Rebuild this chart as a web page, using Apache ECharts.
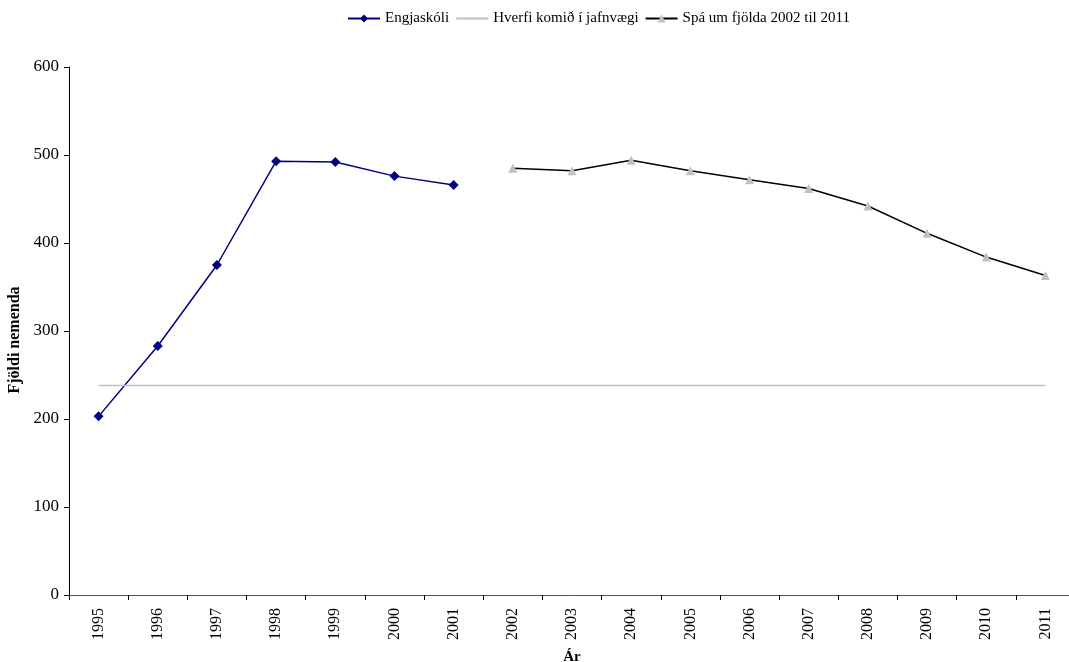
<!DOCTYPE html>
<html>
<head>
<meta charset="utf-8">
<script src="https://cdn.jsdelivr.net/npm/echarts@6/dist/echarts.min.js"></script>
<style>html,body{margin:0;padding:0;background:#fff}#c{width:1069px;height:662px}</style>
</head>
<body>
<div id="c"></div>
<script>
const years = ['1995','1996','1997','1998','1999','2000','2001','2002','2003','2004','2005','2006','2007','2008','2009','2010','2011'];
const engjaskoli = [203, 283, 375, 493, 492, 476, 466, null, null, null, null, null, null, null, null, null, null];
const jafnvaegi = [238, 238, 238, 238, 238, 238, 238, 238, 238, 238, 238, 238, 238, 238, 238, 238, 238];
const spa = [null, null, null, null, null, null, null, 485, 482, 494, 482, 472, 462, 442, 411, 384, 363];
const yTicks = [0, 100, 200, 300, 400, 500, 600];

const font = '"Liberation Serif", "Times New Roman", serif';
const chart = echarts.init(document.getElementById('c'));
chart.setOption({
  animation: false,
  textStyle: { fontFamily: font },
  legend: {
    top: 6, left: 342, itemWidth: 32, itemHeight: 10, itemGap: 6,
    textStyle: { fontFamily: font, fontSize: 15, color: '#000' },
    data: [
      'Engjaskóli',
      { name: 'Hverfi komið í jafnvægi', itemStyle: { opacity: 0 } },
      'Spá um fjölda 2002 til 2011'
    ]
  },
  grid: { left: 69, right: -6, top: 67, bottom: 67, containLabel: false, outerBoundsMode: 'none' },
  xAxis: {
    type: 'category', data: years, boundaryGap: true,
    name: 'Ár', nameLocation: 'middle', nameGap: 55,
    nameTextStyle: { fontFamily: font, fontSize: 15, fontWeight: 'bold', color: '#000' },
    axisLine: { lineStyle: { color: '#555', width: 1 } },
    axisTick: { show: true, inside: false, length: 5, alignWithLabel: false, lineStyle: { color: '#000' } },
    axisLabel: { rotate: 90, fontFamily: font, fontSize: 16, color: '#000', margin: 13 },
    splitLine: { show: false }
  },
  yAxis: {
    type: 'value', min: yTicks[0], max: yTicks[yTicks.length - 1], interval: 100,
    name: 'Fjöldi nemenda', nameLocation: 'middle', nameGap: 44,
    nameTextStyle: { fontFamily: font, fontSize: 16, fontWeight: 'bold', color: '#000', padding: [0, 18, 0, 0] },
    axisLine: { show: true, lineStyle: { color: '#000', width: 1 } },
    axisTick: { show: true, inside: false, length: 5, lineStyle: { color: '#000' } },
    axisLabel: { fontFamily: font, fontSize: 17, color: '#000', margin: 10 },
    splitLine: { show: false }
  },
  series: [
    {
      name: 'Engjaskóli', type: 'line', data: engjaskoli,
      symbol: 'diamond', symbolSize: 10, connectNulls: false,
      itemStyle: { color: '#000080' },
      lineStyle: { color: '#000080', width: 1.5 }
    },
    {
      name: 'Hverfi komið í jafnvægi', type: 'line', data: jafnvaegi,
      symbol: 'none',
      itemStyle: { color: '#c0c0c0' },
      lineStyle: { color: '#c0c0c0', width: 1.5 }
    },
    {
      name: 'Spá um fjölda 2002 til 2011', type: 'line', data: spa,
      symbol: 'triangle', symbolSize: 9,
      itemStyle: { color: '#c0c0c0' },
      lineStyle: { color: '#000', width: 1.5 }
    }
  ]
});
</script>
</body>
</html>
